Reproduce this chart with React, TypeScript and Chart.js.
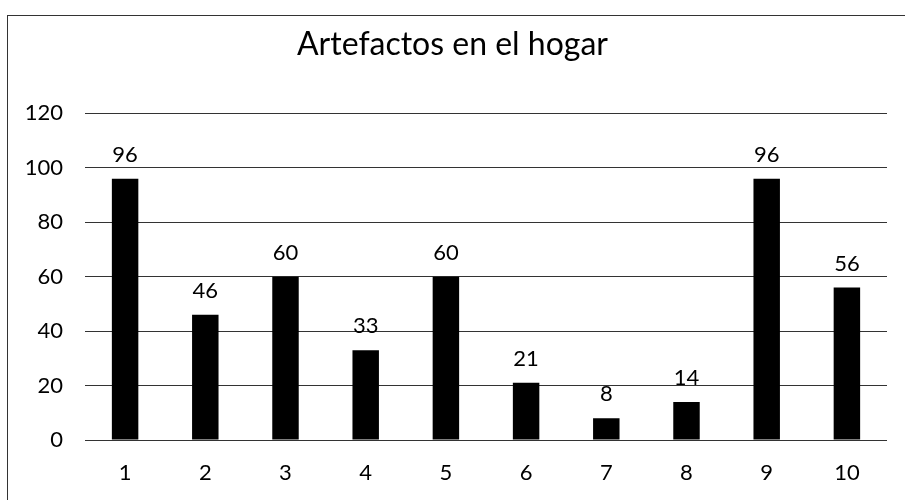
import React, { useEffect, useRef } from "react";
import { Chart, registerables } from "chart.js";

Chart.register(...registerables);

const categories = ["1", "2", "3", "4", "5", "6", "7", "8", "9", "10"];
const values = [96, 46, 60, 33, 60, 21, 8, 14, 96, 56];
const chartTitle = "Artefactos en el hogar";
const FONT = "Lato, 'Open Sans', sans-serif";

const dataLabels = {
  id: "dataLabels",
  afterDatasetsDraw(chart: any) {
    const ctx = chart.ctx;
    const meta = chart.getDatasetMeta(0);
    ctx.save();
    ctx.fillStyle = "#000";
    ctx.font = `22px ${FONT}`;
    ctx.textAlign = "center";
    ctx.textBaseline = "middle";
    meta.data.forEach((bar: any, i: number) => {
      ctx.fillText(String(values[i]), bar.x, bar.y - 24);
    });
    ctx.restore();
  },
};

export default function App() {
  const ref = useRef<HTMLCanvasElement>(null);
  useEffect(() => {
    if (!ref.current) return;
    const chart = new Chart(ref.current, {
      type: "bar",
      data: {
        labels: categories,
        datasets: [
          {
            data: values,
            backgroundColor: "#000",
            borderWidth: 0,
            barPercentage: 0.66,
            categoryPercentage: 0.5,
            yAxisID: "y",
          },
        ],
      },
      options: {
        responsive: false,
        animation: false,
        layout: { padding: { left: 0, right: 0, top: 0, bottom: 17 } },
        plugins: {
          legend: { display: false },
          tooltip: { enabled: false },
          title: {
            display: true,
            text: chartTitle,
            color: "#000",
            font: { family: FONT, size: 32, weight: "normal" },
            padding: { top: 25, bottom: 50 },
          },
        },
        scales: {
          x: {
            afterFit(scale: any) {
              scale.height = 43;
            },
            grid: { display: false, drawTicks: false },
            border: { display: false },
            ticks: {
              color: "#000",
              font: { family: FONT, size: 22 },
              padding: 20,
              maxRotation: 0,
            },
          },
          y: {
            min: 0,
            max: 120,
            afterFit(scale: any) {
              scale.width = 85;
            },
            grid: { color: "#333", lineWidth: 1, drawTicks: false },
            border: { display: false },
            ticks: {
              stepSize: 20,
              color: "#000",
              font: { family: FONT, size: 22 },
              padding: 22,
            },
          },
          yRight: {
            position: "right",
            min: 0,
            max: 120,
            afterFit(scale: any) {
              scale.width = 18;
            },
            grid: { display: false, drawTicks: false },
            border: { display: false },
            ticks: { display: false },
          },
        },
      },
      plugins: [dataLabels],
    });
    return () => chart.destroy();
  }, []);
  return (
    <div style={{ position: "fixed", left: 0, top: 0, width: 905, height: 500, background: "#fff" }}>
      <div
        style={{
          position: "absolute",
          left: 7,
          top: 15,
          width: 920,
          height: 520,
          borderTop: "1px solid #333",
          borderLeft: "1px solid #333",
        }}
      />
      <canvas ref={ref} width={905} height={500} style={{ position: "absolute", left: 0, top: 0 }} />
    </div>
  );
}
